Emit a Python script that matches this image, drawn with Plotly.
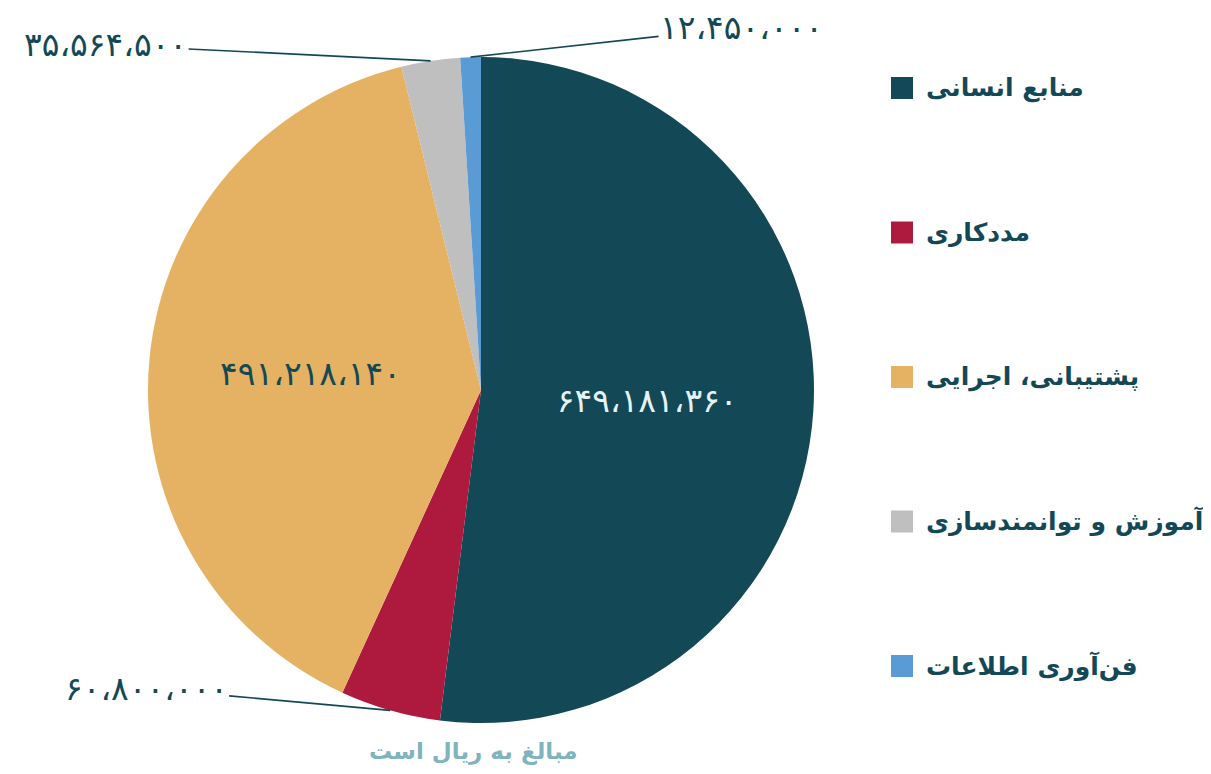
import math
import plotly.graph_objects as go

# ---- data ----
categories = ["منابع انسانی", "مددکاری", "پشتیبانی، اجرایی", "آموزش و توانمندسازی", "فن‌آوری اطلاعات"]
values = [649181360, 60800000, 491218140, 35564500, 12450000]
colors = ["#134956", "#AD1A3D", "#E4B262", "#BFBFBF", "#5B9BD5"]
note = "مبالغ به ریال است"

# ---- helpers ----
OFF = 8                      # page body margin
W, H = 1195, 758             # figure size
FONT = "DejaVu Sans"
DARK = "#134956"

def fx(px):                  # screen pixel -> paper x
    return (px - OFF) / W

def fy(py):                  # screen pixel -> paper y
    return 1 - (py - OFF) / H

def fa_num(v):
    s = f"{v:,}"
    tr = str.maketrans("0123456789,", "۰۱۲۳۴۵۶۷۸۹،")
    return s.translate(tr)

labels_txt = [fa_num(v) for v in values]

# pie geometry (screen pixels)
cx, cy, R = 481, 390, 333
dom_x = [fx(cx - R), fx(cx + R)]
dom_y = [fy(cy + R), fy(cy - R)]

inside = [True, False, True, False, False]
textpos = ["inside" if f else "none" for f in inside]
inside_colors = ["#E6F2F5", "#FFFFFF", DARK, DARK, DARK]

fig = go.Figure(go.Pie(
    labels=categories,
    values=values,
    text=labels_txt,
    textinfo="text",
    textposition=textpos,
    insidetextorientation="horizontal",
    insidetextfont=dict(family=FONT, size=33, color=inside_colors),
    marker=dict(colors=colors, line=dict(width=0)),
    sort=False,
    direction="clockwise",
    rotation=0,
    domain=dict(x=dom_x, y=dom_y),
    showlegend=False,
    hoverinfo="label+value",
))

# outside labels with leader lines, anchored at slice mid-angles
total = sum(values)
label_offsets = {1: (-244, -22), 3: (-325, -16), 4: (271, -30)}
annotations = []
shapes = []
cum = 0
for i, v in enumerate(values):
    mid = (cum + v / 2) / total * 2 * math.pi
    cum += v
    if inside[i]:
        continue
    px = cx + R * math.sin(mid)
    py = cy - R * math.cos(mid)
    ax, ay = label_offsets[i]
    annotations.append(dict(
        x=fx(px), y=fy(py), xref="paper", yref="paper",
        text=labels_txt[i], showarrow=True, arrowhead=0, arrowwidth=1.6,
        arrowcolor=DARK, ax=ax, ay=ay, standoff=0,
        font=dict(family=FONT, size=33, color=DARK),
    ))

# legend (right side)
leg_y0 = 88
leg_step = 144.5
for i, (c, lab) in enumerate(zip(colors, categories)):
    yc = leg_y0 + i * leg_step
    shapes.append(dict(
        type="rect", xref="paper", yref="paper",
        x0=fx(891), x1=fx(913), y0=fy(yc - 11), y1=fy(yc + 11),
        fillcolor=c, line=dict(width=0),
    ))
    annotations.append(dict(
        x=fx(924), y=fy(yc), xref="paper", yref="paper",
        xanchor="left", yanchor="middle", showarrow=False,
        text=f"<b>{lab}</b>",
        font=dict(family=FONT, size=25, color=DARK),
    ))

annotations.append(dict(
    x=fx(474), y=fy(751), xref="paper", yref="paper",
    xanchor="center", yanchor="middle", showarrow=False,
    text=f"<b>{note}</b>",
    font=dict(family=FONT, size=23, color="#7FB3BD"),
))

fig.update_layout(
    width=W, height=H,
    margin=dict(l=0, r=0, t=0, b=0),
    paper_bgcolor="white", plot_bgcolor="white",
    annotations=annotations, shapes=shapes,
)

fig.write_html("out.html")
